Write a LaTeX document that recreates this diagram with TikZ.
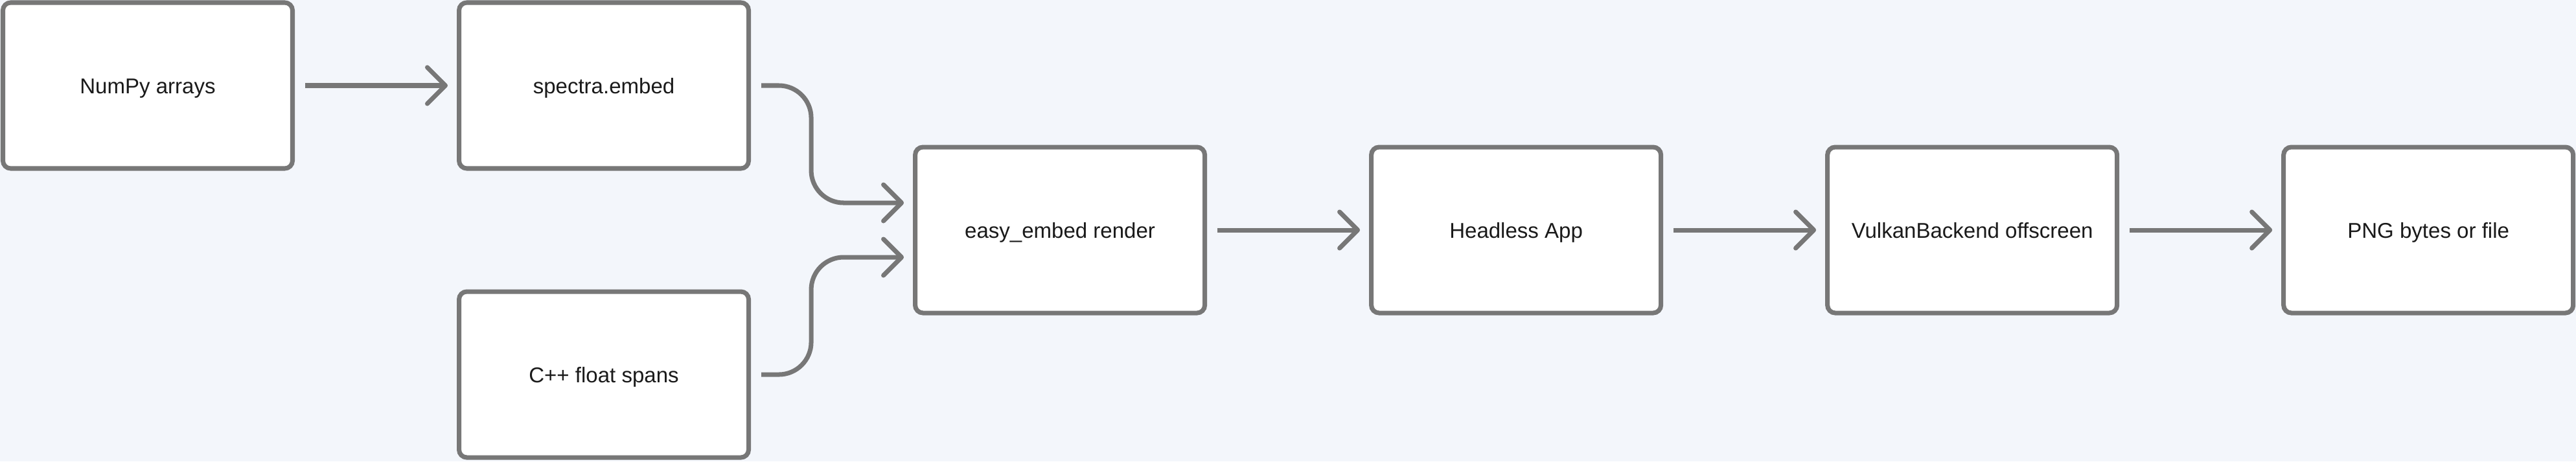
\documentclass[tikz,border=0pt]{standalone}
\usepackage{fontspec}
\setmainfont{Liberation Sans}
\usetikzlibrary{arrows.meta, positioning, calc}
\definecolor{pipebg}{HTML}{F3F6FB}
\definecolor{pipegray}{HTML}{777777}
\definecolor{pipetext}{HTML}{1A1A1A}
\tikzset{
  stage/.style={rectangle, rounded corners=1.2mm, minimum width=4.47cm, minimum height=2.56cm,
    draw=pipegray, line width=2pt, fill=white, font=\fontsize{9.4}{11}\selectfont, text=pipetext,
    align=center, text height=0.92em, text depth=0.2em},
  arr/.style={-{Straight Barb[length=2.8mm, width=5.6mm, round]}, line width=2pt, pipegray,
    shorten <=1.6mm, shorten >=1.4mm},
}
\begin{document}
\begin{tikzpicture}[node distance=2.5cm]
        \fill[pipebg] (0,0) rectangle (39.76,7.12);
        \useasboundingbox (0,0) rectangle (39.76,7.12);
        \node[stage] (np) at (2.28,5.80) {NumPy arrays};
        \node[stage, right=of np] (embed) {spectra.embed};
        \node[stage, below=1.83cm of embed] (cpp) {C++ float spans};
        \coordinate (mid) at ($(embed.east)!0.5!(cpp.east)$);
        \node[stage, right=of mid] (easy) {easy\_embed render};
        \node[stage, right=of easy] (headless) {Headless App};
        \node[stage, right=of headless] (vulkan) {VulkanBackend offscreen};
        \node[stage, right=of vulkan] (png) {PNG bytes or file};
        \draw[arr] (np) -- (embed);
        \draw[arr, rounded corners=5mm] (embed.east) -- ([xshift=9.3mm]embed.east) |- ([yshift=4.2mm]easy.west);
        \draw[arr, rounded corners=5mm] (cpp.east) -- ([xshift=9.3mm]cpp.east) |- ([yshift=-4.2mm]easy.west);
        \draw[arr] (easy) -- (headless);
        \draw[arr] (headless) -- (vulkan);
        \draw[arr] (vulkan) -- (png);
      \end{tikzpicture}
\end{document}
